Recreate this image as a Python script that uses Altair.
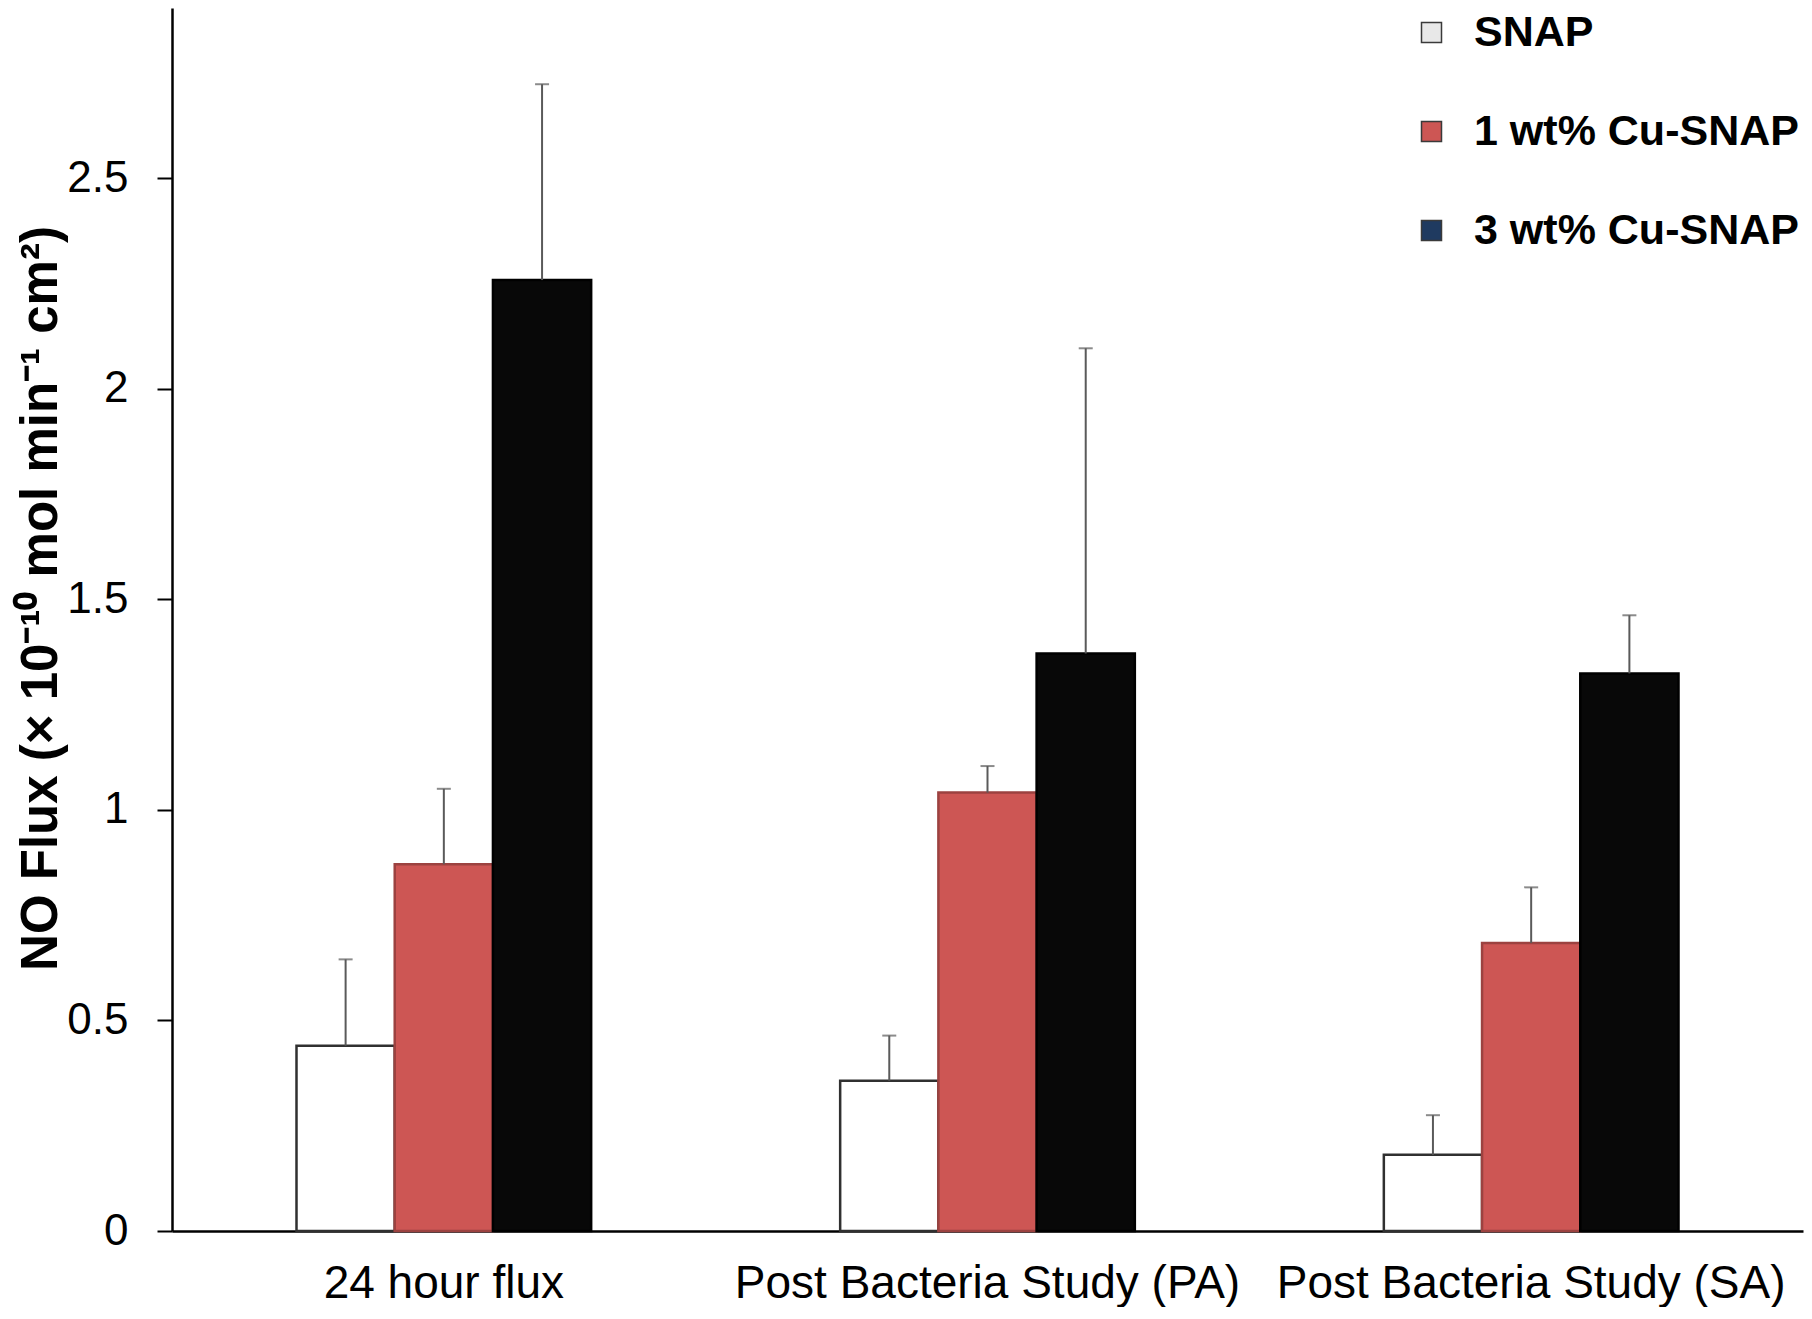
import altair as alt
import pandas as pd

categories = ["24 hour flux", "Post Bacteria Study (PA)", "Post Bacteria Study (SA)"]
series = ["SNAP", "1 wt% Cu-SNAP", "3 wt% Cu-SNAP"]

snap_vals = [0.44, 0.357, 0.181]
snap_upper = [0.645, 0.464, 0.275]
cu1_vals = [0.871, 1.041, 0.684]
cu1_upper = [1.05, 1.104, 0.816]
cu3_vals = [2.258, 1.371, 1.324]
cu3_upper = [2.723, 2.096, 1.462]

bar_colors = ["#ffffff", "#cd5654", "#080808"]
bar_strokes = ["#303030", "#9c4240", "#000000"]
legend_colors = ["#e8e8e8", "#cd5654", "#1f3a60"]
y_ticks = [0, 0.5, 1, 1.5, 2, 2.5]
y_title = "NO Flux (× 10⁻¹⁰ mol min⁻¹ cm²)"

rows = []
for vals, ups, s in [(snap_vals, snap_upper, series[0]),
                     (cu1_vals, cu1_upper, series[1]),
                     (cu3_vals, cu3_upper, series[2])]:
    for c, v, u in zip(categories, vals, ups):
        rows.append({"category": c, "series": s, "value": v, "upper": u})
df = pd.DataFrame(rows)

FONT = "Liberation Sans"

x_enc = alt.X("category:N", sort=categories, title=None,
              scale=alt.Scale(paddingInner=0.458, paddingOuter=0.229))
xo_enc = alt.XOffset("series:N", sort=series,
                     scale=alt.Scale(paddingInner=0, paddingOuter=0))
y_scale = alt.Scale(domain=[0, 2.904], nice=False, zero=True)
y_axis = alt.Axis(values=y_ticks, format="~g", grid=False)

base = alt.Chart(df)

bars = base.mark_bar(strokeWidth=2.5).encode(
    x=x_enc,
    xOffset=xo_enc,
    y=alt.Y("value:Q", scale=y_scale, title=y_title, axis=y_axis),
    color=alt.Color("series:N", sort=series,
                    scale=alt.Scale(domain=series, range=bar_colors), legend=None),
    stroke=alt.Stroke("series:N", sort=series,
                      scale=alt.Scale(domain=series, range=bar_strokes), legend=None),
)

rules = base.mark_rule(color="#5a5a5a", strokeWidth=2).encode(
    x=x_enc,
    xOffset=xo_enc,
    y=alt.Y("value:Q", scale=y_scale, title=y_title, axis=y_axis),
    y2="upper:Q",
)

caps = base.mark_tick(color="#5a5a5a", thickness=2, size=14, orient="horizontal").encode(
    x=x_enc,
    xOffset=xo_enc,
    y=alt.Y("upper:Q", scale=y_scale, title=y_title, axis=y_axis),
)

legend_layer = base.mark_square(opacity=0).encode(
    x=x_enc,
    xOffset=xo_enc,
    y=alt.Y("value:Q", scale=y_scale, title=y_title, axis=y_axis),
    fill=alt.Fill("series:N", sort=series,
                  scale=alt.Scale(domain=series, range=legend_colors),
                  legend=alt.Legend(title=None, orient="none", legendX=1238, legendY=3,
                                    labelFont=FONT, labelFontSize=43, labelFontWeight="bold",
                                    labelColor="black", labelLimit=500,
                                    symbolType="square", symbolSize=400,
                                    symbolStrokeColor="#3a3a3a", symbolStrokeWidth=1.5,
                                    symbolOpacity=1, rowPadding=55, labelOffset=21,
                                    padding=0)),
)

chart = alt.layer(bars, rules, caps, legend_layer).resolve_scale(
    color="independent", fill="independent"
).properties(
    width=1631,
    height=1223,
    autosize=alt.AutoSizeParams(type="none"),
    padding={"left": 164, "top": 0, "right": 1, "bottom": 76},
).configure_view(
    stroke=None
).configure_axisX(
    labelFont=FONT, labelFontSize=46, labelColor="black", labelAngle=0,
    labelPadding=30, labelLimit=0, ticks=False,
    domainColor="black", domainWidth=2.5, grid=False,
).configure_axisY(
    labelFont=FONT, labelFontSize=44, labelColor="black", labelPadding=29,
    tickSize=15, tickWidth=2, tickColor="black",
    domainColor="black", domainWidth=2.5, grid=False,
    titleFont=FONT, titleFontSize=51, titleFontWeight="bold", titleColor="black",
    titleAngle=270, titleX=-116, titleY=590, titleAlign="center", titleBaseline="alphabetic",
)

chart.save("out.html", embed_options={"renderer": "svg", "actions": False})
